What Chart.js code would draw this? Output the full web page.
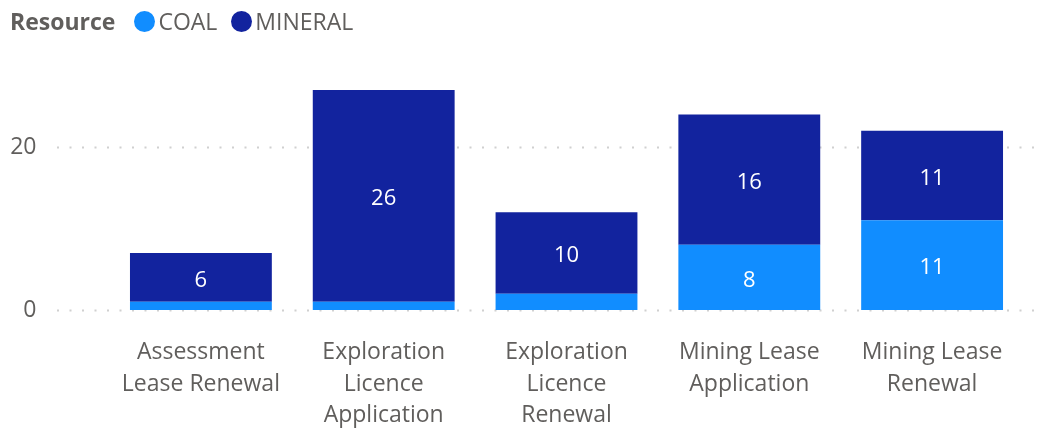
<!DOCTYPE html>
<html>
<head>
<meta charset="utf-8">
<script src="https://cdn.jsdelivr.net/npm/chart.js@4"></script>
<style>
  html, body { margin: 0; padding: 0; background: #fff; }
  #wrap { position: relative; width: 1051px; height: 428px; }
  #legend { position: absolute; left: 10px; top: 5px; font-family: "Open Sans", sans-serif; font-size: 23px; color: #605E5C; white-space: nowrap; display: flex; align-items: center; }
  #legend .title { font-weight: bold; margin-right: 19px; }
  #legend .item { display: flex; align-items: center; margin-right: 14px; }
  #legend .dot { width: 21px; height: 21px; border-radius: 50%; display: inline-block; margin-right: 3px; }
</style>
</head>
<body>
<div id="wrap">
  <canvas id="c" width="1051" height="428"></canvas>
  <div id="legend"></div>
</div>
<script>
const categories = [
  ["Assessment", "Lease Renewal"],
  ["Exploration", "Licence", "Application"],
  ["Exploration", "Licence", "Renewal"],
  ["Mining Lease", "Application"],
  ["Mining Lease", "Renewal"]
];
const coalValues = [1, 1, 2, 8, 11];
const mineralValues = [6, 26, 10, 16, 11];
const yTicks = [0, 20];
const legendTitle = "Resource";
const seriesNames = ["COAL", "MINERAL"];
const seriesColors = ["#118DFF", "#12239E"];

// HTML legend
const leg = document.getElementById('legend');
const t = document.createElement('span'); t.className = 'title'; t.textContent = legendTitle; leg.appendChild(t);
seriesNames.forEach((n, i) => {
  const it = document.createElement('span'); it.className = 'item';
  const d = document.createElement('span'); d.className = 'dot'; d.style.background = seriesColors[i];
  const s = document.createElement('span'); s.textContent = n;
  it.appendChild(d); it.appendChild(s); leg.appendChild(it);
});

const gridPlugin = {
  id: 'dottedGrid',
  beforeDatasetsDraw(chart) {
    const ctx = chart.ctx, y = chart.scales.y;
    ctx.save();
    ctx.strokeStyle = '#D0D0D0';
    ctx.lineWidth = 2;
    ctx.setLineDash([2, 10.5]);
    yTicks.forEach(v => {
      const py = Math.round(y.getPixelForValue(v)) + 0.5;
      ctx.beginPath(); ctx.moveTo(57, py); ctx.lineTo(1042, py); ctx.stroke();
    });
    ctx.restore();
  }
};

const labelPlugin = {
  id: 'barLabels',
  afterDatasetsDraw(chart) {
    const ctx = chart.ctx;
    ctx.save();
    ctx.font = '22px "Open Sans", sans-serif';
    ctx.fillStyle = '#FFFFFF';
    ctx.textAlign = 'center';
    ctx.textBaseline = 'middle';
    chart.data.datasets.forEach((ds, di) => {
      chart.getDatasetMeta(di).data.forEach((bar, i) => {
        const h = Math.abs(bar.base - bar.y);
        if (h < 22) return;
        ctx.fillText(String(ds.data[i]), bar.x, (bar.y + bar.base) / 2 + 3);
      });
    });
    ctx.restore();
  }
};

new Chart(document.getElementById('c'), {
  type: 'bar',
  data: {
    labels: categories,
    datasets: [
      { label: seriesNames[0], data: coalValues, backgroundColor: seriesColors[0] },
      { label: seriesNames[1], data: mineralValues, backgroundColor: seriesColors[1] }
    ]
  },
  options: {
    responsive: false,
    animation: false,
    layout: { padding: { left: 0, right: 27.5, top: 65.5, bottom: 0 } },
    datasets: { bar: { categoryPercentage: 1, barPercentage: 0.776 } },
    plugins: { legend: { display: false }, tooltip: { enabled: false } },
    scales: {
      x: {
        stacked: true,
        grid: { display: false, drawTicks: false },
        border: { display: false },
        ticks: { color: '#605E5C', font: { family: 'Open Sans', size: 23, lineHeight: 1.37 }, padding: 27, maxRotation: 0, autoSkip: false },
        afterFit(s) { s.height = 118; s.paddingLeft = 0; s.paddingRight = 0; }
      },
      y: {
        stacked: true,
        min: 0, max: 30,
        grid: { display: false, drawTicks: false },
        border: { display: false },
        ticks: { color: '#605E5C', font: { family: 'Open Sans', size: 23 }, padding: 73 },
        afterBuildTicks(s) { s.ticks = yTicks.map(v => ({ value: v })); },
        afterFit(s) { s.width = 109.5; s.paddingTop = 0; s.paddingBottom = 0; }
      }
    }
  },
  plugins: [gridPlugin, labelPlugin]
});
</script>
</body>
</html>
